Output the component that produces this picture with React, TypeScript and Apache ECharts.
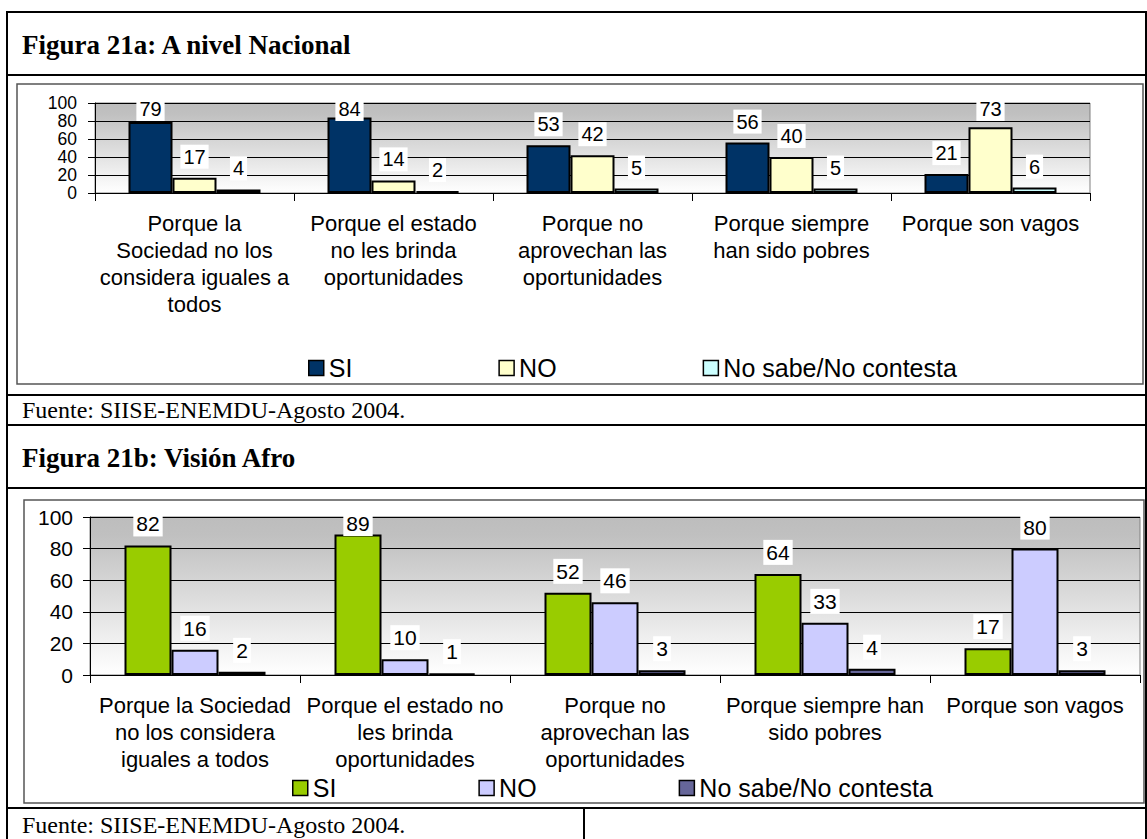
import React, { useEffect, useRef } from "react";
import * as echarts from "echarts";

// ---- Data ----
const categoriesNacional = [
  "Porque la\nSociedad no los\nconsidera iguales a\ntodos",
  "Porque el estado\nno les brinda\noportunidades",
  "Porque no\naprovechan las\noportunidades",
  "Porque siempre\nhan sido pobres",
  "Porque son vagos",
];
const categoriesAfro = [
  "Porque la Sociedad\nno los considera\niguales a todos",
  "Porque el estado no\nles brinda\noportunidades",
  "Porque no\naprovechan las\noportunidades",
  "Porque siempre han\nsido pobres",
  "Porque son vagos",
];
const seriesNames = ["SI", "NO", "No sabe/No contesta"];
const nacionalSI = [79, 84, 53, 56, 21];
const nacionalNO = [17, 14, 42, 40, 73];
const nacionalNS = [4, 2, 5, 5, 6];
const afroSI = [82, 89, 52, 64, 17];
const afroNO = [16, 10, 46, 33, 80];
const afroNS = [2, 1, 3, 4, 3];
const yMin = 0;
const yMax = 100;
const yInterval = 20;
const titleNacional = "Figura 21a: A nivel Nacional";
const titleAfro = "Figura 21b: Visión Afro";
const fuenteText = "Fuente: SIISE-ENEMDU-Agosto 2004.";

const colorsNacional = ["#003366", "#FFFFCC", "#CCFFFF"];
const colorsAfro = ["#99CC00", "#CCCCFF", "#666699"];

const SANS = "'Liberation Sans', Arial, sans-serif";
const SERIF = "'Liberation Serif', 'Times New Roman', serif";

const G1 = { left: 95, top: 103, width: 995, height: 90 };
const G2 = { left: 90, top: 517, width: 1050, height: 158 };

const bgGradient = () =>
  new echarts.graphic.LinearGradient(0, 0, 0, 1, [
    { offset: 0, color: "#bdbdbd" },
    { offset: 0.12, color: "#c0c0c0" },
    { offset: 0.85, color: "#f5f5f5" },
    { offset: 1, color: "#ffffff" },
  ]);

function makeBar(name: string, data: number[], color: string, idx: number, barWidth: number, fontSize: number, gridTop: number) {
  return {
    type: "bar",
    name,
    xAxisIndex: idx,
    yAxisIndex: idx,
    data,
    barWidth,
    barGap: "0%",
    itemStyle: { color, borderColor: "#000", borderWidth: 2 },
    label: {
      show: true,
      position: "top",
      distance: 9,
      fontSize,
      fontFamily: SANS,
      color: "#000",
      backgroundColor: "#fff",
      padding: [2, 3],
      lineHeight: fontSize,
    },
    labelLayout: (p: any) => {
      const r = p.labelRect;
      const minTop = gridTop - 6;
      if (r && r.y < minTop) return { dy: minTop - r.y };
      return {};
    },
  };
}

function xAxisCfg(idx: number, cats: string[]) {
  return {
    type: "category",
    gridIndex: idx,
    data: cats,
    axisLine: { show: true, lineStyle: { color: "#000", width: 1 } },
    axisTick: { show: true, length: 8, lineStyle: { color: "#000" } },
    axisLabel: {
      interval: 0,
      fontSize: 22,
      lineHeight: 27,
      margin: 17,
      color: "#000",
      fontFamily: SANS,
    },
  };
}

function yAxisCfg(idx: number, margin: number, fontSize: number) {
  return {
    type: "value",
    gridIndex: idx,
    min: yMin,
    max: yMax,
    interval: yInterval,
    axisLine: { show: true, lineStyle: { color: "#000", width: 1 } },
    axisTick: { show: true, length: 7, lineStyle: { color: "#000" } },
    axisLabel: {
      fontSize,
      lineHeight: fontSize,
      margin,
      color: "#000",
      fontFamily: SANS,
      showMinLabel: true,
      showMaxLabel: true,
    },
    splitLine: { show: true, lineStyle: { color: "#000", width: 1 } },
  };
}

const line = (x1: number, y1: number, x2: number, y2: number, w = 2, c = "#000") => ({
  type: "line",
  shape: { x1, y1, x2, y2 },
  style: { stroke: c, lineWidth: w },
  silent: true,
  z: 10,
});

export default function App() {
  const ref = useRef<HTMLDivElement>(null);
  useEffect(() => {
    if (!ref.current) return;
    const chart = echarts.init(ref.current, null, { renderer: "svg" });
    const suffix = " (b)";
    const option: any = {
      animation: false,
      textStyle: { fontFamily: SANS },
      grid: [
        { ...G1, show: true, backgroundColor: bgGradient(), borderColor: "#808080", borderWidth: 1 },
        { ...G2, show: true, backgroundColor: bgGradient(), borderColor: "#808080", borderWidth: 1 },
      ],
      xAxis: [xAxisCfg(0, categoriesNacional), xAxisCfg(1, categoriesAfro)],
      yAxis: [yAxisCfg(0, 18, 17.5), yAxisCfg(1, 17, 21)],
      legend: [
        {
          data: seriesNames,
          left: 308,
          top: 355,
          padding: 0,
          itemGap: 146,
          itemWidth: 15,
          itemHeight: 15,
          icon: "rect",
          itemStyle: { borderColor: "#000", borderWidth: 1.5 },
          textStyle: { fontSize: 25, color: "#000", fontFamily: SANS, lineHeight: 26 },
        },
        {
          data: seriesNames.map((n) => n + suffix),
          formatter: (n: string) => n.replace(suffix, ""),
          left: 292,
          top: 775,
          padding: 0,
          itemGap: 142,
          itemWidth: 15,
          itemHeight: 15,
          icon: "rect",
          itemStyle: { borderColor: "#000", borderWidth: 1.5 },
          textStyle: { fontSize: 25, color: "#000", fontFamily: SANS, lineHeight: 26 },
        },
      ],
      series: [
        makeBar(seriesNames[0], nacionalSI, colorsNacional[0], 0, 44, 20, G1.top),
        makeBar(seriesNames[1], nacionalNO, colorsNacional[1], 0, 44, 20, G1.top),
        makeBar(seriesNames[2], nacionalNS, colorsNacional[2], 0, 44, 20, G1.top),
        makeBar(seriesNames[0] + suffix, afroSI, colorsAfro[0], 1, 47, 21, G2.top),
        makeBar(seriesNames[1] + suffix, afroNO, colorsAfro[1], 1, 47, 21, G2.top),
        makeBar(seriesNames[2] + suffix, afroNS, colorsAfro[2], 1, 47, 21, G2.top),
      ],
      graphic: [
        // inner chart frames
        { type: "rect", shape: { x: 17, y: 84, width: 1126, height: 300 }, style: { fill: "none", stroke: "#555", lineWidth: 1.5 }, silent: true, z: 9 },
        { type: "rect", shape: { x: 24, y: 500, width: 1120, height: 303 }, style: { fill: "none", stroke: "#555", lineWidth: 1.5 }, silent: true, z: 9 },
        // table lines
        line(7, 12, 1146, 12),
        line(7, 11, 7, 839),
        line(1146, 11, 1146, 839),
        line(7, 75, 1146, 75),
        line(7, 395, 1146, 395),
        line(7, 425, 1146, 425),
        line(7, 488, 1146, 488),
        line(7, 808, 1146, 808),
        line(584, 808, 584, 839),
        // texts
        { type: "text", x: 22, y: 45, style: { text: titleNacional, font: `bold 27px ${SERIF}`, fill: "#000", verticalAlign: "middle" }, z: 10 },
        { type: "text", x: 22, y: 410, style: { text: fuenteText, font: `24px ${SERIF}`, fill: "#000", verticalAlign: "middle" }, z: 10 },
        { type: "text", x: 22, y: 458, style: { text: titleAfro, font: `bold 27px ${SERIF}`, fill: "#000", verticalAlign: "middle" }, z: 10 },
        { type: "text", x: 22, y: 825, style: { text: fuenteText, font: `24px ${SERIF}`, fill: "#000", verticalAlign: "middle" }, z: 10 },
      ],
    };
    chart.setOption(option);
    return () => chart.dispose();
  }, []);
  return (
    <div
      ref={ref}
      style={{ position: "absolute", left: 0, top: 0, width: 1147, height: 839, background: "#fff" }}
    />
  );
}
